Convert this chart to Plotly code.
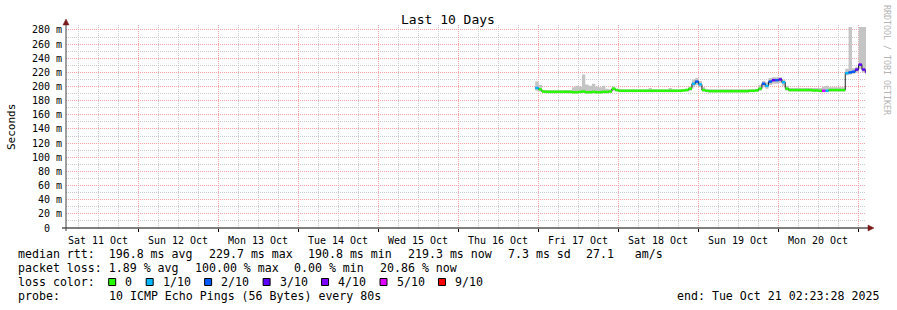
import plotly.graph_objects as go
import pandas as pd

# ---------------- data ----------------
end_time = pd.Timestamp("2025-10-21 02:23:28")
start_time = end_time - pd.Timedelta(days=10)
times = pd.date_range("2025-10-16 23:10", periods=100, freq="h")

median = [198, 196, 193, 192.5, 192.5, 192.5, 192.5, 192.5, 192.5, 192.5,
          192.5, 192, 192, 192.5, 193, 192, 192, 192.5, 192, 192,
          192.5, 192.5, 193, 197, 195, 194, 194, 194, 194, 194,
          194, 194, 194, 194, 194, 194, 194, 194, 194, 194,
          194, 194, 194, 194, 194.5, 195, 197, 204, 207, 203,
          195, 194, 193.5, 193.5, 193.5, 193.5, 193.5, 193.5, 193.5, 193.5,
          193.5, 193.5, 193.5, 193.5, 194, 194, 194.5, 197, 204, 201,
          207, 209, 209, 210, 206, 197, 195, 195, 195, 195,
          195, 195, 195, 194.5, 194.5, 194, 194, 194, 195, 195,
          195, 195, 195, 219, 220, 221, 224, 231, 224, 221]

smoke_hi = [207, 202, 195, 195, 195, 195, 195, 195, 195, 195,
            195, 199, 201, 200, 217, 203, 201, 204, 200, 199,
            201, 197, 196, 200, 197, 196, 196, 196, 196, 196,
            196, 196, 196, 196, 198, 196, 196, 196, 196, 196,
            198, 196, 196, 196, 196, 197, 200, 210, 212, 208,
            199, 196, 196, 196, 196, 196, 196, 196, 196, 196,
            196, 196, 196, 196, 196, 196, 197, 202, 208, 206,
            212, 213, 213, 213, 210, 201, 198, 198, 198, 198,
            198, 198, 198, 198, 198, 198, 200, 201, 199, 199,
            199, 199, 199, 225, 284, 226, 228, 284, 284, 284]

smoke_lo = [194, 193, 191, 190.5, 190.5, 190.5, 190.5, 190.5, 190.5, 190.5,
            190.5, 190, 190, 190.5, 191, 190, 190, 190.5, 190, 190,
            190.5, 190.5, 191, 194, 193, 192, 192, 192, 192, 192,
            192, 192, 192, 192, 192, 192, 192, 192, 192, 192,
            192, 192, 192, 192, 192.5, 193, 194, 199, 202, 199,
            193, 192, 191.5, 191.5, 191.5, 191.5, 191.5, 191.5, 191.5, 191.5,
            191.5, 191.5, 191.5, 191.5, 192, 192, 192.5, 194, 199, 197,
            202, 204, 204, 205, 201, 194, 193, 193, 193, 193,
            193, 193, 193, 192.5, 192.5, 192, 192, 192, 193, 193,
            193, 193, 193, 216, 217, 218, 220, 225, 220, 217]

# index into loss legend (0 -> "0", 1 -> "1/10", ... 6 -> "9/10")
loss_idx = [1, 0, 0, 0, 0, 0, 0, 0, 0, 0,
            0, 0, 0, 0, 0, 0, 0, 0, 0, 0,
            0, 0, 0, 0, 0, 0, 0, 0, 0, 0,
            0, 0, 0, 0, 0, 0, 0, 0, 0, 0,
            0, 0, 0, 0, 0, 0, 0, 1, 2, 1,
            0, 0, 0, 0, 0, 0, 0, 0, 0, 0,
            0, 0, 0, 0, 0, 0, 0, 0, 2, 1,
            2, 3, 2, 3, 1, 0, 0, 0, 0, 0,
            0, 0, 0, 0, 0, 0, 5, 1, 0, 0,
            0, 0, 0, 1, 2, 2, 3, 3, 3, 4]

loss_labels = ["0", "1/10", "2/10", "3/10", "4/10", "5/10", "9/10"]
loss_colors = ["#26ff00", "#00b8ff", "#0059ff", "#5e00ff", "#7e00ff", "#dd00ff", "#ff0000"]

y_ticks = list(range(0, 281, 20))
y_ticktext = ["0\u00a0\u00a0" if v == 0 else f"{v} m" for v in y_ticks]

title = "Last 10 Days"
stats_rtt = ["median rtt:  196.8 ms avg", "229.7 ms max", "190.8 ms min",
             "219.3 ms now", "7.3 ms sd", "27.1\u00a0\u00a0\u00a0am/s"]
stats_loss = ["packet loss: 1.89 % avg", "100.00 % max", "0.00 % min", "20.86 % now"]
probe_text = ["probe:", "10 ICMP Echo Pings (56 Bytes) every 80s"]
end_text = "end: Tue Oct 21 02:23:28 2025"

# ---------------- layout geometry (pixels) ----------------
W, H = 897, 310
L, R, T, B = 66, 866, 25, 228
Y_MAX = 287.0
MONO = "DejaVu Sans Mono"
LEG = 11.6          # legend font size
CW = 6.99           # legend char width
GAP = 15.8          # gap between legend items


def xp(px):
    return (px - L) / (R - L)


def yp(py):
    return (B - py) / (B - T)


fig = go.Figure()

t_ext = list(times) + [end_time]
fig.add_trace(go.Scatter(x=t_ext, y=smoke_lo + [smoke_lo[-1]], mode="lines",
                         line=dict(width=0, shape="hv", color="#c4c4c4"),
                         hoverinfo="skip", showlegend=False))
fig.add_trace(go.Scatter(x=t_ext, y=smoke_hi + [smoke_hi[-1]], mode="lines",
                         line=dict(width=0, shape="hv", color="#c4c4c4"),
                         fill="tonexty", fillcolor="#c4c4c4",
                         hoverinfo="skip", showlegend=False))

fig.add_trace(go.Scatter(x=t_ext, y=median + [median[-1]], mode="lines",
                         line=dict(width=1, color="#202020", shape="hv"),
                         hoverinfo="skip", showlegend=False))

for k, col in enumerate(loss_colors):
    xs, ys = [], []
    for i, v in enumerate(median):
        if loss_idx[i] == k:
            xs += [t_ext[i], t_ext[i + 1], None]
            ys += [v, v, None]
    if xs:
        fig.add_trace(go.Scatter(x=xs, y=ys, mode="lines",
                                 line=dict(width=2.5, color=col),
                                 hoverinfo="skip", showlegend=False))

grid_major = "#f4a4a4"
grid_minor = "#cccccc"

fig.update_layout(
    width=W, height=H,
    margin=dict(l=L, r=W - R, t=T, b=H - B),
    paper_bgcolor="white", plot_bgcolor="white",
    showlegend=False,
    xaxis=dict(
        type="date", range=[start_time, end_time],
        tick0="2025-10-11 00:00", dtick=86400000,
        ticklabelmode="period", tickformat="%a %d %b",
        showgrid=True, gridcolor=grid_major, griddash="1px,1px", gridwidth=1,
        minor=dict(dtick=6 * 3600000, showgrid=True, gridcolor=grid_minor,
                   griddash="1px,1px", gridwidth=1, ticks=""),
        ticks="outside", ticklen=3, tickcolor="#000",
        tickfont=dict(family=MONO, size=10, color="#000"),
        showline=False, zeroline=False, fixedrange=True,
    ),
    yaxis=dict(
        range=[0, Y_MAX], tickvals=y_ticks, ticktext=y_ticktext,
        showgrid=True, gridcolor=grid_major, griddash="1px,1px", gridwidth=1,
        minor=dict(dtick=10, showgrid=True, gridcolor=grid_minor,
                   griddash="1px,1px", gridwidth=1, ticks=""),
        ticks="", ticklabelstandoff=3,
        tickfont=dict(family=MONO, size=10, color="#000"),
        showline=False, zeroline=False, fixedrange=True,
    ),
)

shapes = []
shapes.append(dict(type="line", xref="paper", yref="paper",
                   x0=xp(62), x1=xp(869), y0=yp(228), y1=yp(228),
                   line=dict(color="#000", width=1)))
shapes.append(dict(type="path", xref="paper", yref="paper",
                   path=f"M {xp(868)} {yp(225)} L {xp(874)} {yp(228)} L {xp(868)} {yp(231)} Z",
                   fillcolor="#7a1a1a", line=dict(color="#7a1a1a", width=0.5)))
shapes.append(dict(type="line", xref="paper", yref="paper",
                   x0=xp(66), x1=xp(66), y0=yp(231), y1=yp(24),
                   line=dict(color="#404040", width=1)))
shapes.append(dict(type="path", xref="paper", yref="paper",
                   path=f"M {xp(63)} {yp(25)} L {xp(66)} {yp(19)} L {xp(69)} {yp(25)} Z",
                   fillcolor="#7a1a1a", line=dict(color="#7a1a1a", width=0.5)))

ann = []


def text(px, py, s, size=LEG, color="#000", anchor="left", angle=0):
    ann.append(dict(xref="paper", yref="paper", x=xp(px), y=yp(py), text=s,
                    showarrow=False, xanchor=anchor, yanchor="middle",
                    textangle=angle,
                    font=dict(family=MONO, size=size, color=color)))


def legend_row(items, py, x0=16):
    x = x0
    for s in items:
        text(x, py, s)
        x += len(s) * CW + GAP


text(448, 19, title, size=13, anchor="center")
text(11, 127, "Seconds", size=11, anchor="center", angle=-90)
text(887, 60, "RRDTOOL / TOBI OETIKER", size=8.3, color="#b4b4b4",
     anchor="center", angle=90)

legend_row(stats_rtt, 254)
legend_row(stats_loss, 268)

text(16, 282, "loss color:")
bx = 16 + len("loss color:") * CW + GAP
for lab, col in zip(loss_labels, loss_colors):
    shapes.append(dict(type="rect", xref="paper", yref="paper",
                       x0=xp(bx), x1=xp(bx + 7), y0=yp(285.5), y1=yp(278.5),
                       fillcolor=col, line=dict(color="#000", width=1)))
    text(bx + 14.7, 282, lab)
    bx += 14.7 + len(lab) * CW + GAP

text(16, 296, probe_text[0])
text(16 + 13 * CW, 296, probe_text[1])
text(881, 296, end_text, anchor="right")

fig.update_layout(shapes=shapes, annotations=ann)
fig.write_html("out.html")
